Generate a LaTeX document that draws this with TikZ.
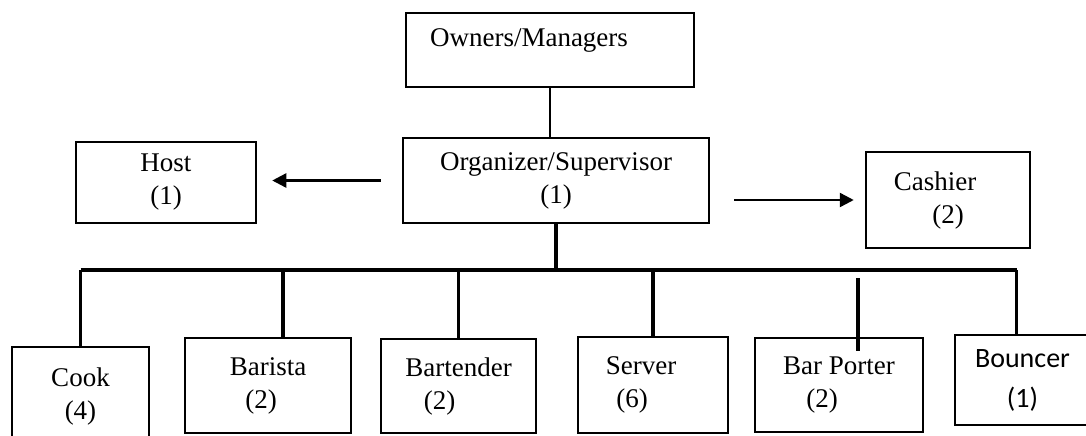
\documentclass[tikz,border=0pt]{standalone}
\usepackage{fontspec}
\setmainfont{Liberation Serif}
\newfontfamily\calibrifont{Carlito}
\usetikzlibrary{arrows.meta}

\begin{document}
\begin{tikzpicture}[
    x=0.5pt, y=-0.5pt,
    box/.style={rectangle, draw, line width=1.25pt, align=center, inner sep=0pt, font=\fontsize{13.5}{16.5}\selectfont},
    arrow/.style={-{Triangle[length=7pt, width=7pt]}, line width=1.2pt},
    link/.style={line width=1.9pt}
]
\useasboundingbox (0,0) rectangle (1086,435);
\clip (0,0) rectangle (1086,435);
% top
\node[box, minimum width=144pt, minimum height=37pt, text depth=12pt] (owners) at (550,50) {Owners/Managers\hspace*{21pt}};
\node[box, minimum width=153pt, minimum height=42.5pt] (organizer) at (556,180.5) {Organizer/Supervisor\\(1)};
\node[box, minimum width=90pt, minimum height=40.5pt] (host) at (166,182.5) {Host\\(1)};
\node[box, minimum width=82pt, minimum height=48pt] (cashier) at (948,200) {Cashier\hspace*{13pt}\\(2)};
% staff
\node[box, minimum width=68.5pt, minimum height=49pt] (cook) at (80.5,396) {Cook\\(4)};
\node[box, minimum width=83pt, minimum height=47.5pt] (barista) at (268,385.5) {Barista\\(2)\hspace*{7pt}};
\node[box, minimum width=77.5pt, minimum height=47pt] (bartender) at (458.5,386) {Bartender\\(2)\hspace*{19pt}};
\node[box, minimum width=75pt, minimum height=48pt] (server) at (653,385) {Server\hspace*{12pt}\\(6)\hspace*{21pt}};
\node[box, minimum width=84pt, minimum height=47pt] (porter) at (839,385) {Bar Porter\\(2)\hspace*{17pt}};
\node[box, minimum width=67.5pt, minimum height=45pt, font=\calibrifont\fontsize{14}{20}\selectfont] (bouncer) at (1022.5,380) {Bouncer\\(1)};
\coordinate (bus) at (556,270);
% links
\draw[link, line width=1.4pt] (owners.south) -- (owners.south |- organizer.north);
\draw[arrow, shorten <=10.5pt, shorten >=7.5pt] (organizer.west) -- (organizer.west -| host.east);
\draw[arrow, shorten <=12pt, shorten >=5.5pt] (cashier.west -| organizer.east) -- (cashier.west);
\draw[link] (organizer.south) -- (bus);
\draw[link] (cook.north |- bus) -- ([xshift=-3pt]bouncer.north |- bus);
\foreach \n in {cook,bartender,server}
    \draw[link] (\n.north) -- (\n.north |- bus);
\draw[link] ([xshift=7.5pt]barista.north) -- ([xshift=7.5pt]barista.north |- bus);
\draw[link, shorten <=-7pt, shorten >=4pt] ([xshift=9.5pt]porter.north) -- ([xshift=9.5pt]porter.north |- bus);
\draw[link] ([xshift=-3pt]bouncer.north) -- ([xshift=-3pt]bouncer.north |- bus);
\end{tikzpicture}
\end{document}
